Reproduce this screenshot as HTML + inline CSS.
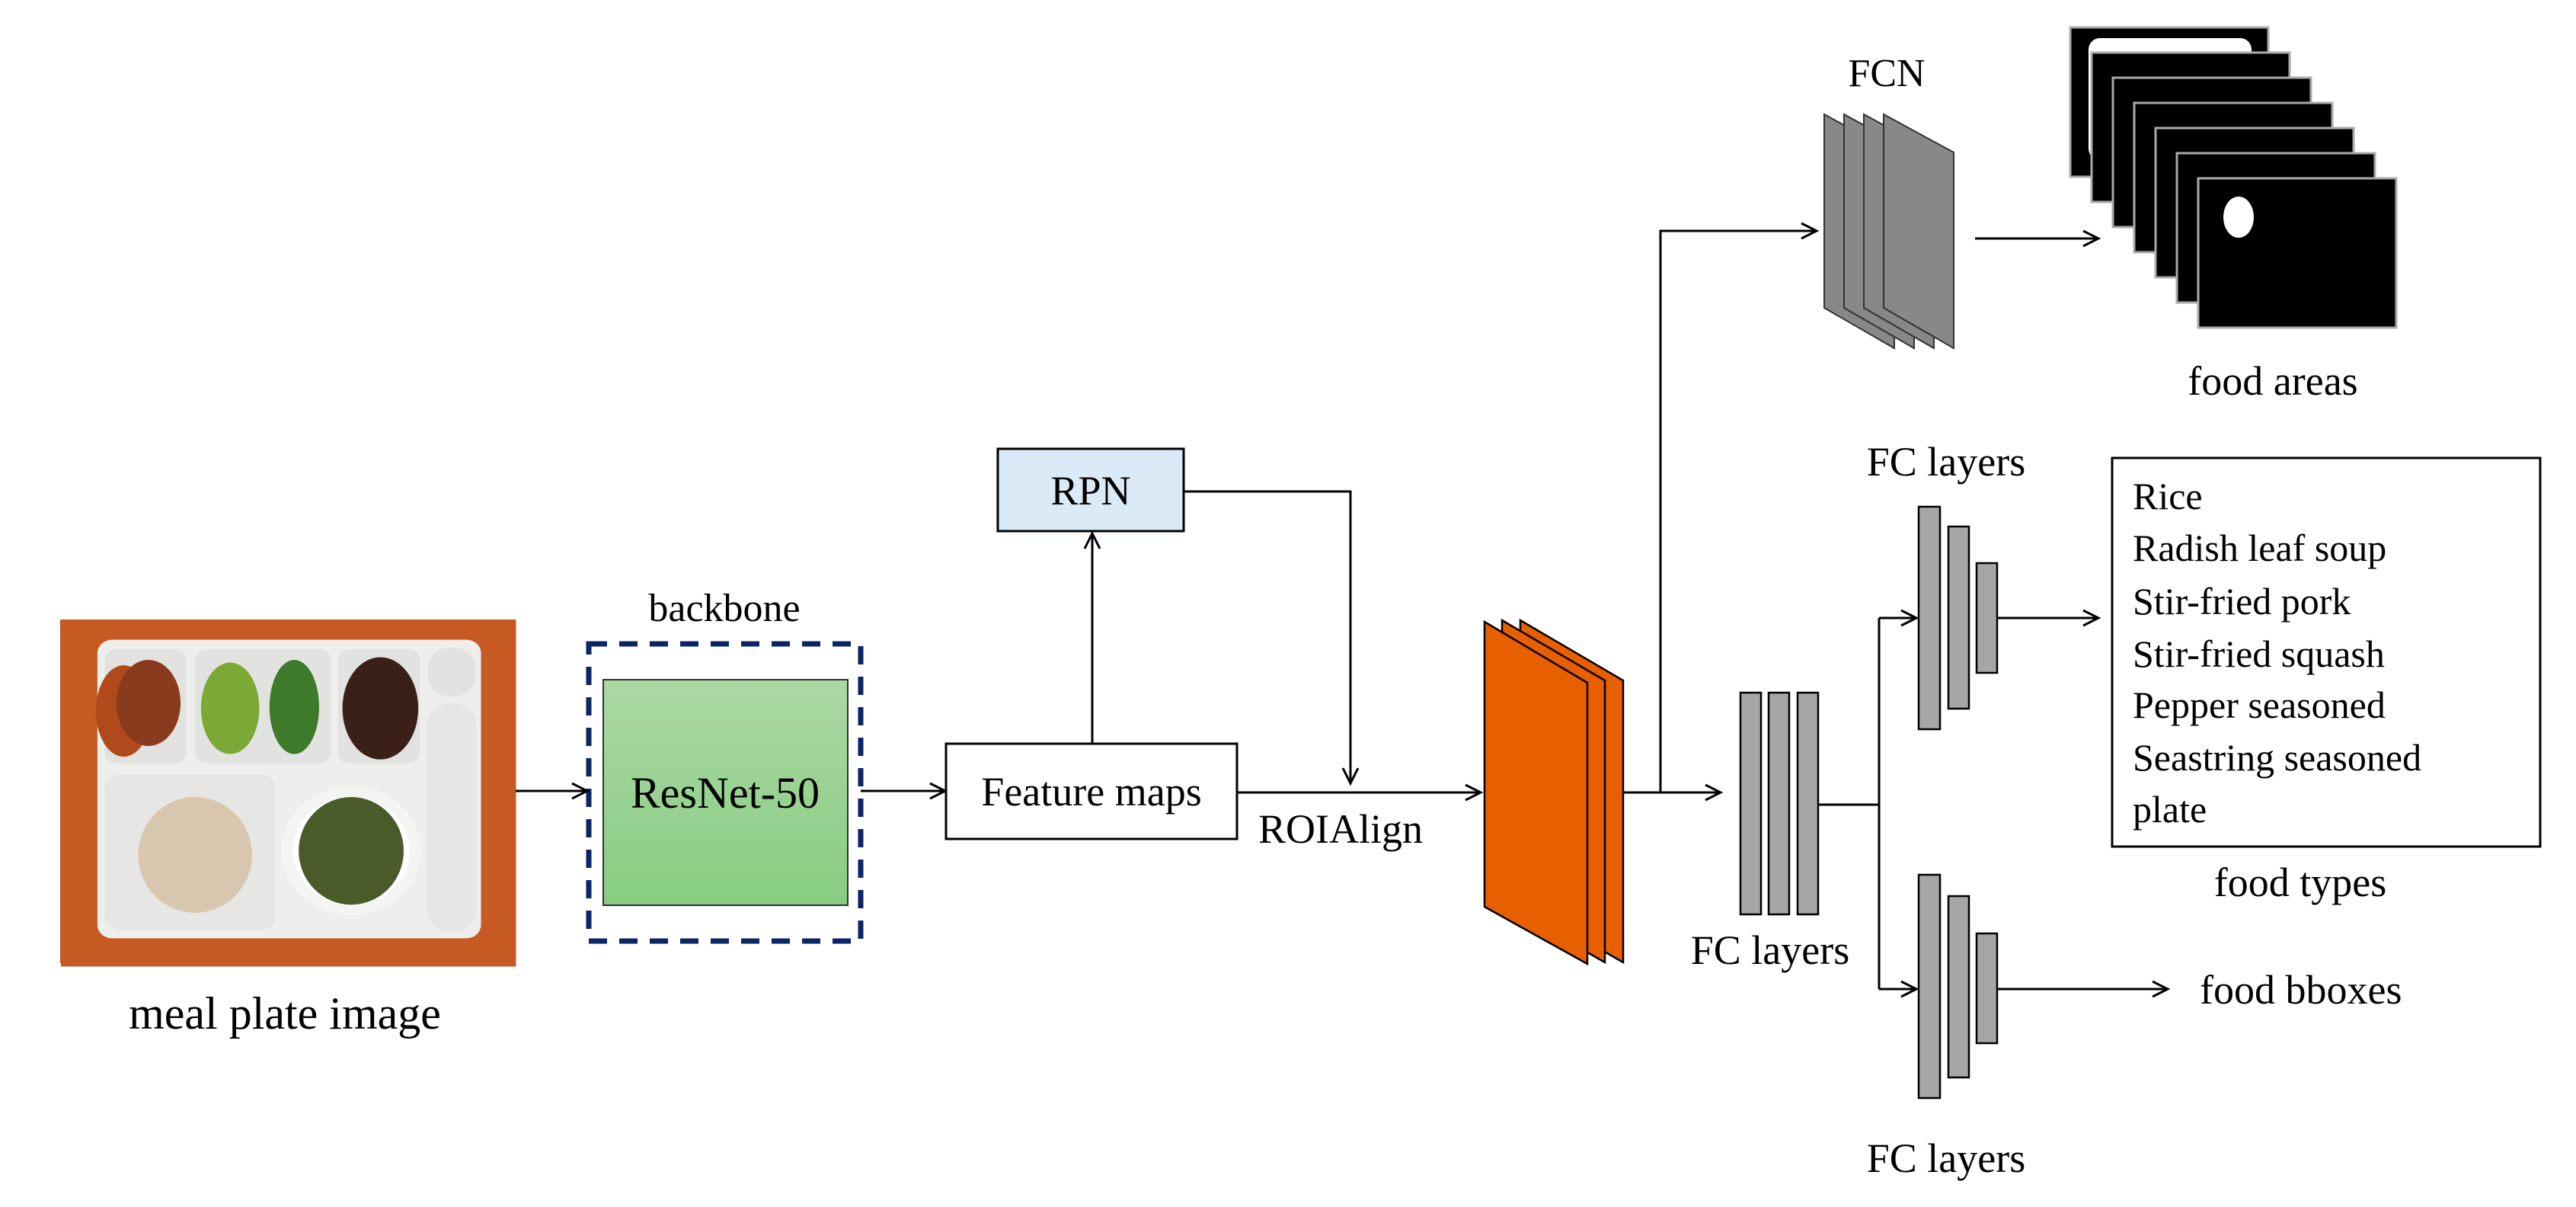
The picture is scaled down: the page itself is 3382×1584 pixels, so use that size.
<!DOCTYPE html>
<html><head><meta charset="utf-8"><style>
html,body{margin:0;padding:0;background:#fff}
svg{display:block}
text{font-family:"Liberation Serif",serif;fill:#000}
</style></head><body>
<svg width="3382" height="1584" viewBox="0 0 3382 1584" xmlns="http://www.w3.org/2000/svg">
<defs>
<marker id="ar" markerWidth="30" markerHeight="30" refX="22" refY="12" orient="auto" markerUnits="userSpaceOnUse">
<path d="M2,2 L22,12 L2,22" fill="none" stroke="#000" stroke-width="3"/>
</marker>
<linearGradient id="gr" x1="0" y1="0" x2="0" y2="1"><stop offset="0" stop-color="#abd9a3"/><stop offset="1" stop-color="#88cc82"/></linearGradient>
</defs>

<!-- Photo -->
<rect x="79" y="813" width="598" height="451" fill="#c2571f"/>
<g transform="translate(80,806) scale(0.383,0.353)">
<rect x="0" y="20" width="1560" height="1290" fill="#c65a22"/>
<rect x="125" y="95" width="1315" height="1110" rx="50" fill="#eeeeec"/>
<rect x="150" y="130" width="280" height="425" rx="40" fill="#e2e2e0"/>
<rect x="460" y="130" width="465" height="425" rx="40" fill="#e2e2e0"/>
<rect x="950" y="130" width="280" height="425" rx="40" fill="#e2e2e0"/>
<rect x="1260" y="125" width="160" height="180" rx="70" fill="#e2e2e0"/>
<rect x="1255" y="330" width="170" height="850" rx="80" fill="#e6e6e4"/>
<rect x="150" y="595" width="585" height="580" rx="50" fill="#e6e6e4"/>
<ellipse cx="215" cy="360" rx="95" ry="170" fill="#b04a1a"/>
<ellipse cx="300" cy="330" rx="110" ry="160" fill="#8a3b1d"/>
<ellipse cx="580" cy="350" rx="100" ry="170" fill="#7ca836"/>
<ellipse cx="800" cy="345" rx="85" ry="175" fill="#3d7a2a"/>
<ellipse cx="1095" cy="350" rx="130" ry="190" fill="#3b2018"/>
<ellipse cx="460" cy="895" rx="195" ry="215" fill="#d8c7ae"/>
<circle cx="995" cy="880" r="240" fill="#f4f4f2"/>
<circle cx="995" cy="880" r="200" fill="#fff"/>
<ellipse cx="995" cy="880" rx="180" ry="200" fill="#4a5a28"/>
</g>

<text x="374" y="1350" font-size="60" text-anchor="middle">meal plate image</text>

<!-- backbone -->
<text x="951" y="815" font-size="52" text-anchor="middle">backbone</text>
<rect x="773" y="845" width="357" height="390" fill="none" stroke="#0b2565" stroke-width="7" stroke-dasharray="24,16"/>
<rect x="792" y="892" width="321" height="296" fill="url(#gr)" stroke="#333" stroke-width="2"/>
<text x="952" y="1060" font-size="58" text-anchor="middle">ResNet-50</text>

<line x1="677" y1="1038" x2="771" y2="1038" stroke="#000" stroke-width="3" marker-end="url(#ar)"/>
<line x1="1130" y1="1038" x2="1241" y2="1038" stroke="#000" stroke-width="3" marker-end="url(#ar)"/>

<rect x="1242" y="976" width="382" height="125" fill="#fff" stroke="#000" stroke-width="3"/>
<text x="1433" y="1057" font-size="54" text-anchor="middle">Feature maps</text>

<rect x="1310" y="589" width="244" height="108" fill="#dbeaf7" stroke="#000" stroke-width="3"/>
<text x="1432" y="662" font-size="54" text-anchor="middle">RPN</text>
<line x1="1434" y1="976" x2="1434" y2="700" stroke="#000" stroke-width="3" marker-end="url(#ar)"/>
<polyline points="1554,645 1773,645 1773,1028" fill="none" stroke="#000" stroke-width="3" marker-end="url(#ar)"/>
<line x1="1624" y1="1040" x2="1944" y2="1040" stroke="#000" stroke-width="3" marker-end="url(#ar)"/>
<text x="1760" y="1106" font-size="54" text-anchor="middle">ROIAlign</text>

<!-- orange stack -->
<g fill="#e85f00" stroke="#000" stroke-width="2.5">
<polygon points="1996,814 2131,893 2131,1263 1996,1186"/>
<polygon points="1972,814 2107,893 2107,1263 1972,1186"/>
<polygon points="1949,816 2084,896 2084,1265 1949,1190"/>
</g>

<line x1="2131" y1="1040" x2="2259" y2="1040" stroke="#000" stroke-width="3" marker-end="url(#ar)"/>
<polyline points="2180,1040 2180,303 2385,303" fill="none" stroke="#000" stroke-width="3" marker-end="url(#ar)"/>

<!-- FCN -->
<g fill="#888" stroke="#333" stroke-width="2">
<polygon points="2395,150 2487,200 2487,457 2395,404"/>
<polygon points="2421,150 2513,200 2513,457 2421,404"/>
<polygon points="2447,150 2539,200 2539,457 2447,404"/>
<polygon points="2473,150 2565,200 2565,457 2473,404"/>
</g>
<text x="2477" y="113" font-size="52" text-anchor="middle">FCN</text>
<line x1="2593" y1="313" x2="2755" y2="313" stroke="#000" stroke-width="3" marker-end="url(#ar)"/>

<!-- masks -->
<g stroke="#aaa" stroke-width="3">
<rect x="2718" y="36" width="260" height="196" fill="#000"/>
<rect x="2742" y="50" width="214" height="160" rx="15" fill="#fff" stroke="none"/>
<rect x="2746" y="69" width="260" height="196" fill="#000"/>
<rect x="2774" y="102" width="260" height="196" fill="#000"/>
<rect x="2802" y="135" width="260" height="196" fill="#000"/>
<rect x="2830" y="168" width="260" height="196" fill="#000"/>
<rect x="2858" y="201" width="260" height="196" fill="#000"/>
<rect x="2886" y="234" width="260" height="196" fill="#000"/>
</g>
<ellipse cx="2939" cy="285" rx="20" ry="27" fill="#fff"/>
<text x="2984" y="518" font-size="54" text-anchor="middle">food areas</text>

<!-- FC -->
<g fill="#a6a6a6" stroke="#000" stroke-width="2.5">
<rect x="2285" y="909" width="27" height="291"/>
<rect x="2322" y="909" width="27" height="291"/>
<rect x="2360" y="909" width="27" height="291"/>
<rect x="2519" y="665" width="28" height="292"/>
<rect x="2558" y="691" width="27" height="239"/>
<rect x="2595" y="739" width="27" height="144"/>
<rect x="2519" y="1148" width="28" height="293"/>
<rect x="2558" y="1176" width="27" height="238"/>
<rect x="2595" y="1225" width="27" height="144"/>
</g>
<polyline points="2387,1056 2467,1056" fill="none" stroke="#000" stroke-width="3"/>
<line x1="2467" y1="811" x2="2467" y2="1298" stroke="#000" stroke-width="3"/>
<line x1="2467" y1="811" x2="2516" y2="811" stroke="#000" stroke-width="3" marker-end="url(#ar)"/>
<line x1="2467" y1="1298" x2="2516" y2="1298" stroke="#000" stroke-width="3" marker-end="url(#ar)"/>
<line x1="2622" y1="811" x2="2755" y2="811" stroke="#000" stroke-width="3" marker-end="url(#ar)"/>
<line x1="2622" y1="1298" x2="2846" y2="1298" stroke="#000" stroke-width="3" marker-end="url(#ar)"/>

<text x="2555" y="624" font-size="54" text-anchor="middle">FC layers</text>
<text x="2324" y="1265" font-size="54" text-anchor="middle">FC layers</text>
<text x="2555" y="1538" font-size="54" text-anchor="middle">FC layers</text>

<rect x="2773" y="601" width="562" height="510" fill="#fff" stroke="#000" stroke-width="3"/>
<g font-size="50">
<text x="2800" y="668">Rice</text>
<text x="2800" y="736">Radish leaf soup</text>
<text x="2800" y="806">Stir-fried pork</text>
<text x="2800" y="875">Stir-fried squash</text>
<text x="2800" y="942">Pepper seasoned</text>
<text x="2800" y="1011">Seastring seasoned</text>
<text x="2800" y="1079">plate</text>
</g>
<text x="3020" y="1176" font-size="54" text-anchor="middle">food types</text>
<text x="2888" y="1317" font-size="54">food bboxes</text>
</svg>
</body></html>
